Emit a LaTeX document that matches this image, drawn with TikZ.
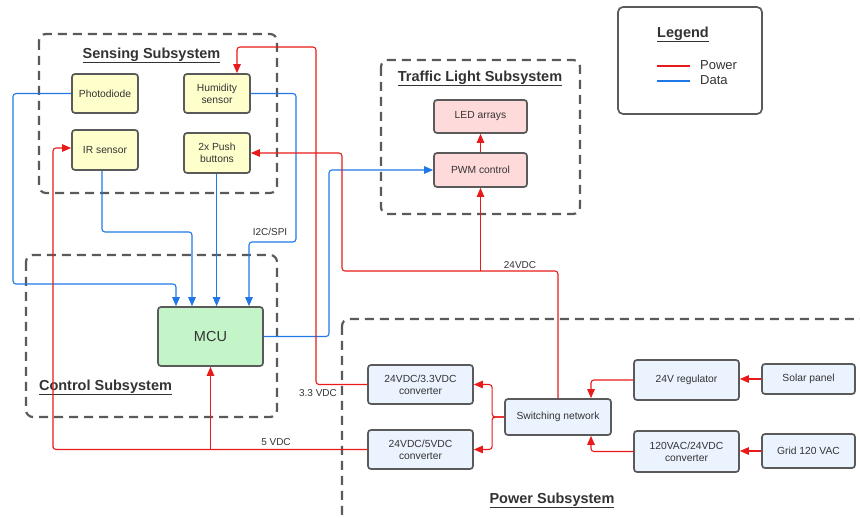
\documentclass[tikz,border=0pt]{standalone}
\usepackage{fontspec}
\setmainfont{Liberation Sans}
\usetikzlibrary{arrows.meta, positioning}

\definecolor{edgegray}{HTML}{5A5A5A}
\definecolor{txtgray}{HTML}{333333}
\definecolor{pwrred}{HTML}{E81A1A}
\definecolor{datblue}{HTML}{1F78E6}
\definecolor{senseyellow}{HTML}{FFFFCC}
\definecolor{ctrlgreen}{HTML}{C3F5C8}
\definecolor{lightpink}{HTML}{FFDADA}
\definecolor{powerblue}{HTML}{EBF3FE}

\tikzset{
  block/.style={draw=edgegray, line width=1.7pt, rounded corners=3pt, align=center,
    text=txtgray, font=\fontsize{10.3}{12.3}\selectfont, inner sep=1pt},
  group/.style={draw=edgegray, line width=2.2pt, dash pattern=on 9pt off 6pt, rounded corners=7pt},
  grouptitle/.style={text=txtgray, font=\fontsize{14.5}{17}\selectfont\bfseries},
  pwr/.style={draw=pwrred, line width=1.1pt, rounded corners=3pt, -{Triangle[length=9pt,width=7.5pt]}},
  dat/.style={draw=datblue, line width=1.1pt, rounded corners=3pt, -{Triangle[length=9pt,width=7.5pt]}},
  lbl/.style={text=txtgray, font=\fontsize{10}{12}\selectfont, inner sep=1pt},
}

\begin{document}
\begin{tikzpicture}[x=1pt, y=-1pt]
\useasboundingbox (0,0) rectangle (860,518);
\clip (0,0) rectangle (860,518);

% subsystem frames
\draw[group] (39,34) rectangle (277,193);
\draw[group] (381,60) rectangle (580,214);
\draw[group] (26,255) rectangle (277,417);
\draw[group] (342,319) rectangle (880,540);

\node[grouptitle] (senseT) at (151.5,55.5) {\underline{Sensing Subsystem}};
\node[grouptitle] (lightT) at (480,78.5) {\underline{Traffic Light Subsystem}};
\node[grouptitle] (ctrlT) at (105.5,387.5) {\underline{Control Subsystem}};
\node[grouptitle] (powerT) at (552,500.5) {\underline{Power Subsystem}};

% legend
\draw[edgegray, line width=1.7pt, rounded corners=5pt] (618,7) rectangle (762,114);
\node[grouptitle] (legT) at (683,34.5) {\underline{Legend}};
\draw[pwrred, line width=1.1pt] (657,66) -- (690,66);
\draw[datblue, line width=1.1pt] (657,81) -- (690,81);
\node[lbl, anchor=west, font=\fontsize{13}{15}\selectfont] (legP) at (699,65) {Power};
\node[lbl, anchor=west, font=\fontsize{13}{15}\selectfont] (legD) at (699,80) {Data};

% sensing blocks
\node[block, fill=senseyellow, minimum width=66, minimum height=39] (photo) at (105,93.5) {Photodiode};
\node[block, fill=senseyellow, minimum width=66, minimum height=39] (hum) at (217,93.5) {Humidity\\sensor};
\node[block, fill=senseyellow, minimum width=66, minimum height=40] (ir) at (105,150) {IR sensor};
\node[block, fill=senseyellow, minimum width=66, minimum height=40] (push) at (217,153) {2x Push\\buttons};

% traffic light blocks
\node[block, fill=lightpink, minimum width=93, minimum height=33] (led) at (480.5,116.5) {LED arrays};
\node[block, fill=lightpink, minimum width=93, minimum height=34] (pwm) at (480.5,170) {PWM control};

% control
\node[block, fill=ctrlgreen, minimum width=105, minimum height=59, font=\fontsize{14.5}{17}\selectfont] (mcu) at (210.5,336.5) {MCU};

% power blocks
\node[block, fill=powerblue, minimum width=105, minimum height=39] (c33) at (420.5,384.5) {24VDC/3.3VDC\\converter};
\node[block, fill=powerblue, minimum width=105, minimum height=39] (c5) at (420.5,449.5) {24VDC/5VDC\\converter};
\node[block, fill=powerblue, minimum width=106, minimum height=36] (sw) at (558,417) {Switching network};
\node[block, fill=powerblue, minimum width=105, minimum height=40] (reg) at (686.5,380) {24V regulator};
\node[block, fill=powerblue, minimum width=105, minimum height=41] (ac) at (686.5,451.5) {120VAC/24VDC\\converter};
\node[block, fill=powerblue, minimum width=93, minimum height=30] (solar) at (808.5,379) {Solar panel};
\node[block, fill=powerblue, minimum width=93, minimum height=34] (grid) at (808.5,451) {Grid 120 VAC};

% data lines
\draw[dat] (photo.west) -| (13,284) -| ([xshift=-34.5pt]mcu.north);
\draw[dat] ([xshift=-3pt]ir.south) |- (192,232) -- ([xshift=-18.5pt]mcu.north);
\draw[dat] ([xshift=-0.4pt]push.south) -- ([xshift=-0.4pt]push.south |- mcu.north);
\draw[dat] (hum.east) -| (296,242) -| ([xshift=38.5pt]mcu.north);
\draw[dat] (mcu.east) -| (329,170) -- (pwm.west);
\node[lbl] (i2c) at (270,232) {I2C/SPI};

% power lines
\draw[pwr] (solar.west) -- (solar.west -| reg.east);
\draw[pwr] (grid.west) -- (grid.west -| ac.east);
\draw[pwr] (reg.west) -| ([xshift=33pt]sw.north);
\draw[pwr] (ac.west) -| ([xshift=33pt]sw.south);
\draw[pwr] (sw.west) -- ++(-12,0) |- (c33.east);
\draw[pwr] (sw.west) -- ++(-12,0) |- (c5.east);
\draw[pwr] (sw.north) |- (342,271) |- (push.east);
\coordinate (tap24) at (pwm.south |- 0,271);
\draw[pwr] (tap24) -- (pwm.south);
\draw[pwr] (led.south |- pwm.north) -- (led.south);
\draw[pwr] (c33.west) -| (316,47) -| ([xshift=20pt]hum.north);
\draw[pwr] (c5.west) -| (53,449.5) |- ([yshift=2pt]ir.west);
\draw[pwr] (mcu.south |- c5.west) -- (mcu.south);
\node[lbl] (v24) at (520,265) {24VDC};
\node[lbl] (v33) at (318,393) {3.3 VDC};
\node[lbl] (v5) at (276,442) {5 VDC};
\end{tikzpicture}
\end{document}
